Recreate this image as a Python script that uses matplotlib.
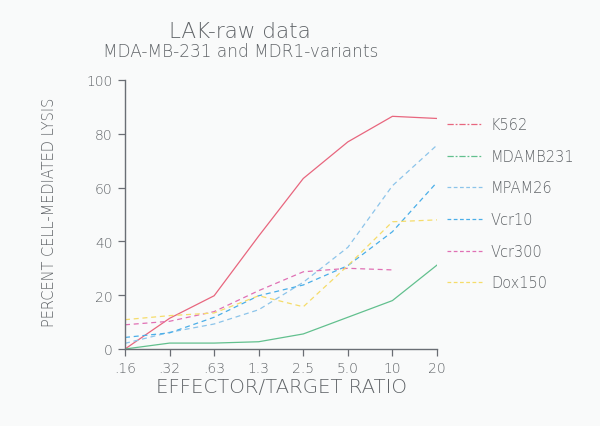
import matplotlib
matplotlib.use("Agg")
import matplotlib.pyplot as plt
from matplotlib.lines import Line2D

plt.rcParams["font.family"] = ["DejaVu Sans"]
plt.rcParams["font.weight"] = "ultralight"

ratios = [".16", ".32", ".63", "1.3", "2.5", "5.0", "10", "20"]
k562 = [0, 11.4, 19.8, 42, 63.4, 77, 86.5, 85.7]
mdamb231 = [0, 2.2, 2.2, 2.7, 5.6, 11.8, 18, 31.2]
mpam26 = [2.1, 6.2, 9.3, 14.6, 24.8, 37.8, 60.7, 75.8]
vcr10 = [4.3, 6.0, 11.8, 19.8, 23.8, 31, 43.6, 62]
vcr300 = [9, 10.3, 13.9, 21.7, 28.7, 30, 29.4]
dox150 = [10.9, 12.4, 13.4, 19.8, 15.7, 31, 47.3, 48]
yticks = [0, 20, 40, 60, 80, 100]

series = [
    ("K562", k562, "#e8667e", "-"),
    ("MDAMB231", mdamb231, "#62c08e", "-"),
    ("MPAM26", mpam26, "#8cc4ea", (0, (4, 3))),
    ("Vcr10", vcr10, "#4aaee8", (0, (4, 3))),
    ("Vcr300", vcr300, "#e070b4", (0, (4, 3))),
    ("Dox150", dox150, "#f5dc6a", (0, (4, 3))),
]

txt = "#606468"
bg = "#f9fafa"
fig = plt.figure(figsize=(6, 4.27), dpi=100, facecolor=bg)
ax = fig.add_axes([125/600, 1-350/427, (437-125)/600, (350-81)/427])
ax.set_facecolor(bg)

x = list(range(len(ratios)))
handles = []
for name, vals, col, ls in series:
    ax.plot(x[:len(vals)], vals, color=col, lw=0.9, ls=ls)
    hls = (0, (5, 1.5, 1.5, 1.5)) if ls == "-" else (0, (3, 2))
    handles.append(Line2D([], [], color=col, lw=0.9, ls=hls, label=name))

ax.set_xlim(0, len(ratios) - 1)
ax.set_ylim(0, 100)
ax.set_xticks(x)
ax.set_xticklabels(ratios)
ax.set_yticks(yticks)
for s in ["top", "right"]:
    ax.spines[s].set_visible(False)
for s in ["left", "bottom"]:
    ax.spines[s].set_color("#6a6e74")
    ax.spines[s].set_linewidth(1.0)
ax.tick_params(colors="#6a6e74", labelcolor=txt, labelsize=10, length=5, width=0.9, pad=4)

fig.text(240/600, 1-32/427, "LAK-raw data", ha="center", va="center", fontsize=15.5, color=txt)
fig.text(241/600, 1-52/427, "MDA-MB-231 and MDR1-variants", ha="center", va="center", fontsize=12.2, color=txt)
fig.text(281/600, 1-388/427, "EFFECTOR/TARGET RATIO", ha="center", va="center", fontsize=14.2, color=txt)
fig.text(50/600, 1-212/427, "PERCENT CELL-MEDIATED LYSIS", ha="center", va="center", fontsize=10.5, color=txt, rotation=90)

leg = fig.legend(handles=handles, loc="upper left", bbox_to_anchor=(434/600, 1-105/427),
                 frameon=False, fontsize=10.5, handlelength=2.4, labelspacing=1.14,
                 handletextpad=0.6, labelcolor=txt)

fig.savefig("out.png", dpi=100, facecolor=bg)
